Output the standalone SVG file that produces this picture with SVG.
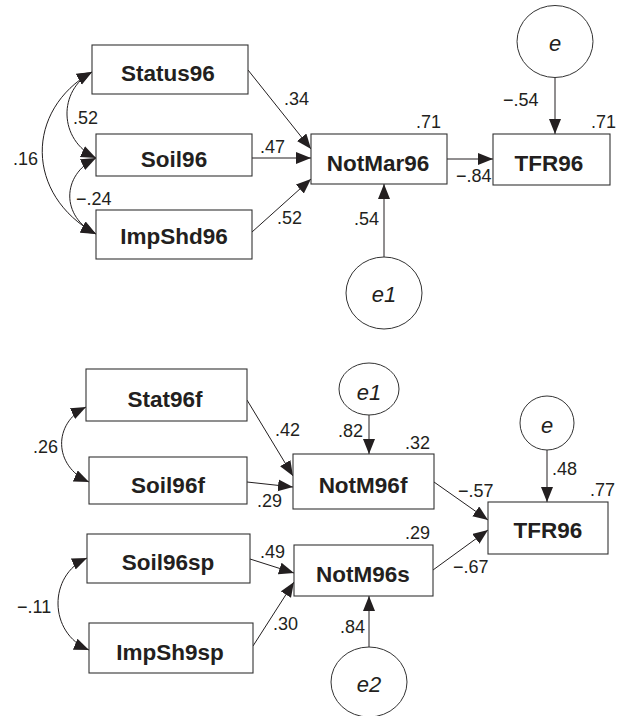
<svg xmlns="http://www.w3.org/2000/svg" width="631" height="716" viewBox="0 0 631 716">
<defs>
<marker id="ah" markerUnits="userSpaceOnUse" markerWidth="17" markerHeight="13" refX="15" refY="6" orient="auto-start-reverse" viewBox="0 0 17 13">
<path d="M0,0 L15,6 L0,12 z" fill="#231f20"/>
</marker>
</defs>
<style>
.box{fill:#fff;stroke:#333;stroke-width:1.1}
.circ{fill:#fff;stroke:#333;stroke-width:1}
.nt{font-family:"Liberation Sans",Arial,sans-serif;font-weight:bold;font-size:22.5px;fill:#231f20;text-anchor:middle}
.ct{font-family:"Liberation Sans",Arial,sans-serif;font-style:italic;font-size:22px;fill:#231f20;text-anchor:middle}
.lb{font-family:"Liberation Sans",Arial,sans-serif;font-size:18px;fill:#231f20}
.c{fill:none;stroke:#231f20;stroke-width:1;marker-end:url(#ah)}
.d{fill:none;stroke:#231f20;stroke-width:1;marker-start:url(#ah);marker-end:url(#ah)}
</style>
<rect width="631" height="716" fill="#fff"/>
<g id="connectors">
<path class="c" d="M248,70 L311,149"/>
<path class="c" d="M252,158 L311,158"/>
<path class="c" d="M252,232 L311,179"/>
<path class="c" d="M447,159 L493,159"/>
<path class="c" d="M555,77 L555,134"/>
<path class="c" d="M384,257 L384,184"/>
<path class="d" d="M92,72 C58,90 58,140 96,158"/>
<path class="d" d="M92,72 C25,110 25,195 96,234"/>
<path class="d" d="M96,158 C61,175 61,217 96,234"/>
<path class="c" d="M247,400 L293,476"/>
<path class="c" d="M247,482 L293,487"/>
<path class="c" d="M250,559 L294,573"/>
<path class="c" d="M253,646 L294,582"/>
<path class="c" d="M434,482 L488,520"/>
<path class="c" d="M433,570 L488,530"/>
<path class="c" d="M369,415 L369,454"/>
<path class="c" d="M547,450 L547,502"/>
<path class="c" d="M369,647 L369,596"/>
<path class="d" d="M86,407 C53,423 53,466 89,482"/>
<path class="d" d="M87,558 C48,575 48,633 89,650"/>
</g>
<g id="Status96"><rect class="box" x="92" y="45" width="156" height="49"/><text class="nt" x="168" y="81">Status96</text></g>
<g id="Soil96"><rect class="box" x="96" y="134" width="156" height="42"/><text class="nt" x="174" y="166.5">Soil96</text></g>
<g id="ImpShd96"><rect class="box" x="96" y="210" width="156" height="49"/><text class="nt" x="174" y="244">ImpShd96</text></g>
<g id="NotMar96"><rect class="box" x="311" y="134" width="136" height="50"/><text class="nt" x="378" y="171">NotMar96</text></g>
<g id="TFR96a"><rect class="box" x="493" y="134" width="117" height="51"/><text class="nt" x="549" y="171">TFR96</text></g>
<g id="e_a"><ellipse class="circ" cx="555" cy="41.5" rx="38" ry="36"/><text class="ct" x="555" y="50.5">e</text></g>
<g id="e1_a"><ellipse class="circ" cx="384" cy="293" rx="38" ry="36"/><text class="ct" x="384" y="301.5">e1</text></g>
<g id="Stat96f"><rect class="box" x="86" y="369" width="161" height="52"/><text class="nt" x="165" y="406.5">Stat96f</text></g>
<g id="Soil96f"><rect class="box" x="89" y="457" width="158" height="47"/><text class="nt" x="168" y="492.5">Soil96f</text></g>
<g id="Soil96sp"><rect class="box" x="87" y="534" width="163" height="49"/><text class="nt" x="168" y="570">Soil96sp</text></g>
<g id="ImpSh9sp"><rect class="box" x="89" y="623" width="164" height="50"/><text class="nt" x="170" y="660">ImpSh9sp</text></g>
<g id="NotM96f"><rect class="box" x="293" y="454" width="141" height="55"/><text class="nt" x="363" y="493">NotM96f</text></g>
<g id="NotM96s"><rect class="box" x="294" y="545" width="139" height="51"/><text class="nt" x="363" y="581.5">NotM96s</text></g>
<g id="TFR96b"><rect class="box" x="488" y="502" width="120" height="52"/><text class="nt" x="548" y="538">TFR96</text></g>
<g id="e1_b"><ellipse class="circ" cx="369" cy="389" rx="30" ry="26"/><text class="ct" x="369" y="400">e1</text></g>
<g id="e_b"><ellipse class="circ" cx="547" cy="423" rx="27" ry="27"/><text class="ct" x="547" y="433">e</text></g>
<g id="e2"><ellipse class="circ" cx="369" cy="682" rx="38" ry="35"/><text class="ct" x="369" y="691.5">e2</text></g>
<g id="labels">
<text class="lb" x="284" y="105">.34</text>
<text class="lb" x="260" y="153">.47</text>
<text class="lb" x="73" y="124">.52</text>
<text class="lb" x="13" y="165">.16</text>
<text class="lb" x="76" y="205">−.24</text>
<text class="lb" x="277" y="224">.52</text>
<text class="lb" x="416" y="128">.71</text>
<text class="lb" x="456" y="181.5">−.84</text>
<text class="lb" x="503" y="105.5">−.54</text>
<text class="lb" x="591" y="128">.71</text>
<text class="lb" x="354" y="225">.54</text>
<text class="lb" x="275" y="435.5">.42</text>
<text class="lb" x="33" y="452.5">.26</text>
<text class="lb" x="257" y="506.5">.29</text>
<text class="lb" x="260" y="557.5">.49</text>
<text class="lb" x="17" y="612.5">−.11</text>
<text class="lb" x="273" y="630">.30</text>
<text class="lb" x="338" y="436.5">.82</text>
<text class="lb" x="405" y="449">.32</text>
<text class="lb" x="458" y="496.5">−.57</text>
<text class="lb" x="552" y="475">.48</text>
<text class="lb" x="590" y="495.5">.77</text>
<text class="lb" x="405" y="539">.29</text>
<text class="lb" x="453" y="572.5">−.67</text>
<text class="lb" x="340" y="633">.84</text>
</g>
</svg>
